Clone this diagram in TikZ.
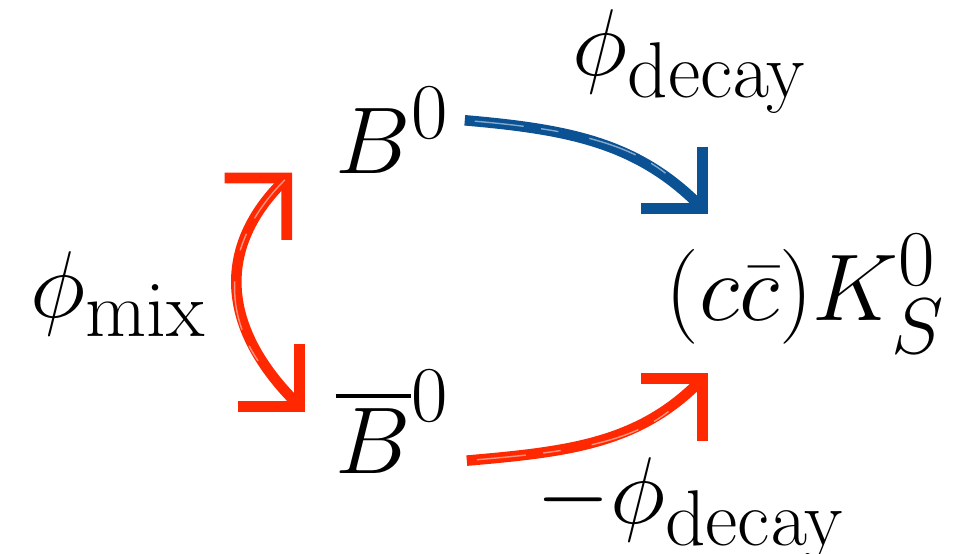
\RequirePackage{fix-cm}
\documentclass[tikz,border=0pt]{standalone}
\usepackage{amsmath}
\usepackage{tikz}
\usetikzlibrary{arrows.meta}

\DeclareMathSizes{27}{27}{22.5}{18}
\definecolor{brushblue}{RGB}{10,82,148}
\definecolor{brushred}{RGB}{255,40,0}

\begin{document}
\begin{tikzpicture}[
  lbl/.style={
    inner sep=0pt, anchor=base west,
    font=\fontsize{27}{32}\selectfont
  },
  brush/.style={
    line width=3pt, line cap=butt,
    -{Straight Barb[angle=90:6.2mm]},
    postaction={draw=white, -, line width=0.4pt, opacity=0.5,
      shorten >=4mm, shorten <=1mm,
      dash pattern=on 14pt off 5pt on 5pt off 9pt}
  },
  brushboth/.style={brush, {Straight Barb[angle=90:6.2mm]}-{Straight Barb[angle=90:6.2mm]}}
]
\useasboundingbox (0,0) rectangle (9.66,5.53);

% Zustaende
\node[lbl] (B0) at (3.35,3.80) {$B^0$};
\node[lbl] (B0bar) at (3.35,0.80) {$\overline{B}^0$};
\node[lbl] (final) at (6.65,2.33) {$(c\bar{c})K_S^0$};

% Phasen
\node[lbl] (phimix) at (0.30,2.36) {$\phi_{\mathrm{mix}}$};
\node[lbl] (phidec) at (5.72,4.78) {$\phi_{\mathrm{decay}}$};
\node[lbl] (mphidec) at (5.36,0.30) {$-\phi_{\mathrm{decay}}$};

% Pfeile
\draw[brush, brushblue] ([shift={(0.15,0.1)}]B0.east)
  to[out=-5, in=135] ([shift={(0.43,0.2)}]final.north west);
\draw[brush, brushred] ([shift={(0.17,-0.39)}]B0bar.east)
  to[out=5, in=-135] ([shift={(0.43,-0.19)}]final.south west);
\draw[brushboth, brushred] ([shift={(-0.43,0.01)}]B0.south west)
  to[out=-135, in=135, looseness=1.2] ([shift={(-0.30,-0.42)}]B0bar.north west);

\end{tikzpicture}
\end{document}
